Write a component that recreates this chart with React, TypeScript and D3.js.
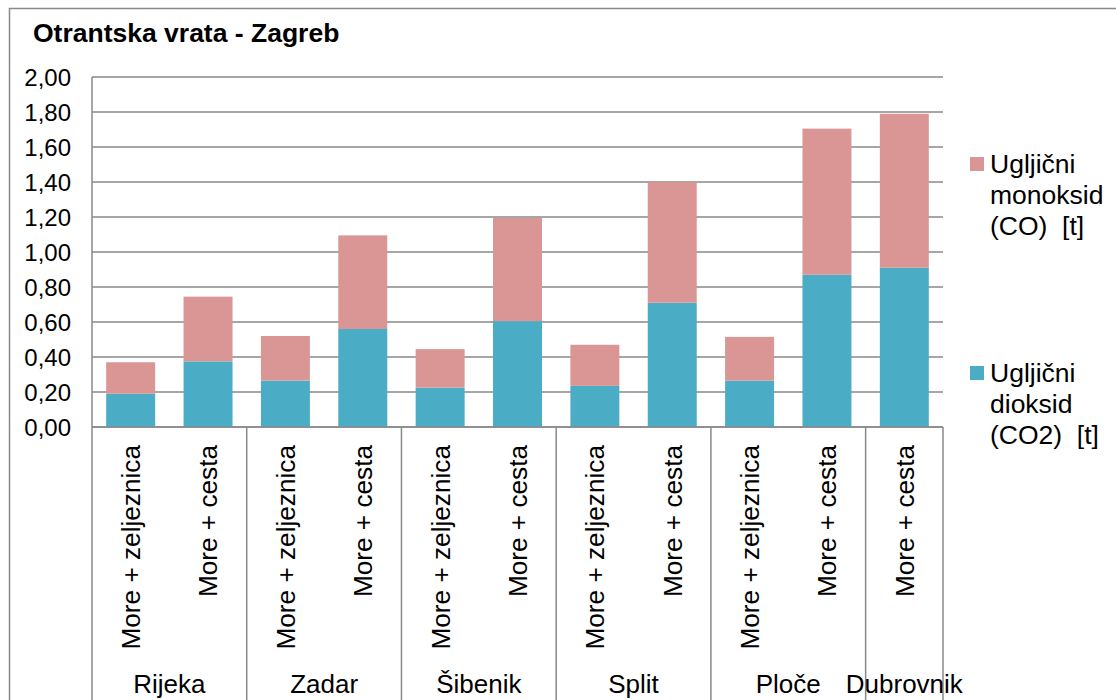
import { scaleBand, scaleLinear, stack, formatLocale, range } from "d3";

const barLabels = [
  "More + zeljeznica", "More + cesta",
  "More + zeljeznica", "More + cesta",
  "More + zeljeznica", "More + cesta",
  "More + zeljeznica", "More + cesta",
  "More + zeljeznica", "More + cesta",
  "More + cesta",
];
const barGroups = [
  "Rijeka", "Rijeka", "Zadar", "Zadar", "Šibenik", "Šibenik",
  "Split", "Split", "Ploče", "Ploče", "Dubrovnik",
];
const groups = ["Rijeka", "Zadar", "Šibenik", "Split", "Ploče", "Dubrovnik"];

// CO2 at the bottom, CO on top
const co2 = [0.19, 0.375, 0.265, 0.56, 0.225, 0.605, 0.235, 0.71, 0.265, 0.87, 0.91];
const co = [0.18, 0.37, 0.255, 0.535, 0.22, 0.59, 0.235, 0.69, 0.25, 0.835, 0.88];

const yTicks = [0, 0.2, 0.4, 0.6, 0.8, 1.0, 1.2, 1.4, 1.6, 1.8, 2.0];
const title = "Otrantska vrata - Zagreb";

const seriesKeys = ["co2", "co"];
const seriesColors: Record<string, string> = { co2: "#4BACC6", co: "#D99694" };
const legendLines: Record<string, string[]> = {
  co: ["Ugljični", "monoksid", "(CO)  [t]"],
  co2: ["Ugljični", "dioksid", "(CO2)  [t]"],
};

const hr = formatLocale({ decimal: ",", thousands: ".", grouping: [3], currency: ["", ""] });
const fmt = hr.format(".2f");

const FONT = "'Liberation Sans', Arial, sans-serif";
const GRID = "#898989";

export default function App() {
  const W = 1116;
  const H = 700;
  const left = 92;
  const right = 943;
  const top = 77;
  const bottom = 427;

  const x = scaleBand<number>()
    .domain(range(barLabels.length))
    .range([left, right])
    .paddingInner(0.367)
    .paddingOuter(0.1835);
  const y = scaleLinear().domain([0, 2]).range([bottom, top]);

  const rows = barLabels.map((_, i) => ({ co2: co2[i], co: co[i] }));
  const stacked = stack<{ co2: number; co: number }>().keys(seriesKeys)(rows as any);

  const gap = (x.step() - x.bandwidth()) / 2;
  const groupBounds = groups.map((g) => {
    const idx = barGroups.map((b, i) => (b === g ? i : -1)).filter((i) => i >= 0);
    const x0 = (x(idx[0]) ?? 0) - gap;
    const x1 = (x(idx[idx.length - 1]) ?? 0) + x.bandwidth() + gap;
    return { g, x0, x1 };
  });

  return (
    <div style={{ position: "fixed", left: 0, top: 0, width: W, height: H, background: "#fff" }}>
      <svg width={W} height={H} style={{ display: "block" }} fontFamily={FONT}>
        <rect x={0} y={0} width={W} height={H} fill="#fff" />
        {/* outer frame */}
        <path d={`M9.5,${H + 2}V8.5H${W + 2}`} fill="none" stroke={GRID} strokeWidth={1.5} />

        <text x={33} y={42} fontSize={26.5} fontWeight="bold" fill="#000">
          {title}
        </text>

        {/* gridlines + y ticks */}
        {yTicks.map((t) => (
          <g key={t}>
            <line x1={left} x2={right} y1={y(t)} y2={y(t)} stroke={GRID} strokeWidth={1.5} />
            <text x={71} y={y(t)} dy="0.36em" textAnchor="end" fontSize={24} fill="#000">
              {fmt(t)}
            </text>
          </g>
        ))}

        {/* bars */}
        {stacked.map((s) => (
          <g key={s.key} fill={seriesColors[s.key]}>
            {s.map((d, i) => (
              <rect
                key={i}
                x={x(i)}
                y={y(d[1])}
                width={x.bandwidth()}
                height={y(d[0]) - y(d[1])}
              />
            ))}
          </g>
        ))}

        {/* axes */}
        <line x1={left} x2={left} y1={top} y2={H + 2} stroke={GRID} strokeWidth={1.5} />
        <line x1={left} x2={right} y1={bottom} y2={bottom} stroke={GRID} strokeWidth={1.5} />
        {groupBounds.map((b) => (
          <line key={b.g} x1={b.x1} x2={b.x1} y1={bottom} y2={H + 2} stroke={GRID} strokeWidth={1.5} />
        ))}

        {/* bar labels */}
        {barLabels.map((l, i) => {
          const cx = (x(i) ?? 0) + x.bandwidth() / 2;
          return (
            <text
              key={i}
              transform={`translate(${cx},445) rotate(-90)`}
              dy="0.36em"
              textAnchor="end"
              fontSize={26.2}
              fill="#000"
            >
              {l}
            </text>
          );
        })}

        {/* group labels */}
        {groupBounds.map((b) => (
          <text key={b.g} x={(b.x0 + b.x1) / 2} y={693} textAnchor="middle" fontSize={26} fill="#000">
            {b.g}
          </text>
        ))}

        {/* legend */}
        {["co", "co2"].map((k, j) => {
          const y0 = j === 0 ? 173 : 382;
          return (
            <g key={k}>
              <rect x={970} y={y0 - 16} width={14} height={14} fill={seriesColors[k]} />
              {legendLines[k].map((t, li) => (
                <text key={li} x={990} y={y0 + li * 31} fontSize={26.5} fill="#000" style={{ whiteSpace: "pre" }}>
                  {t}
                </text>
              ))}
            </g>
          );
        })}
      </svg>
    </div>
  );
}
